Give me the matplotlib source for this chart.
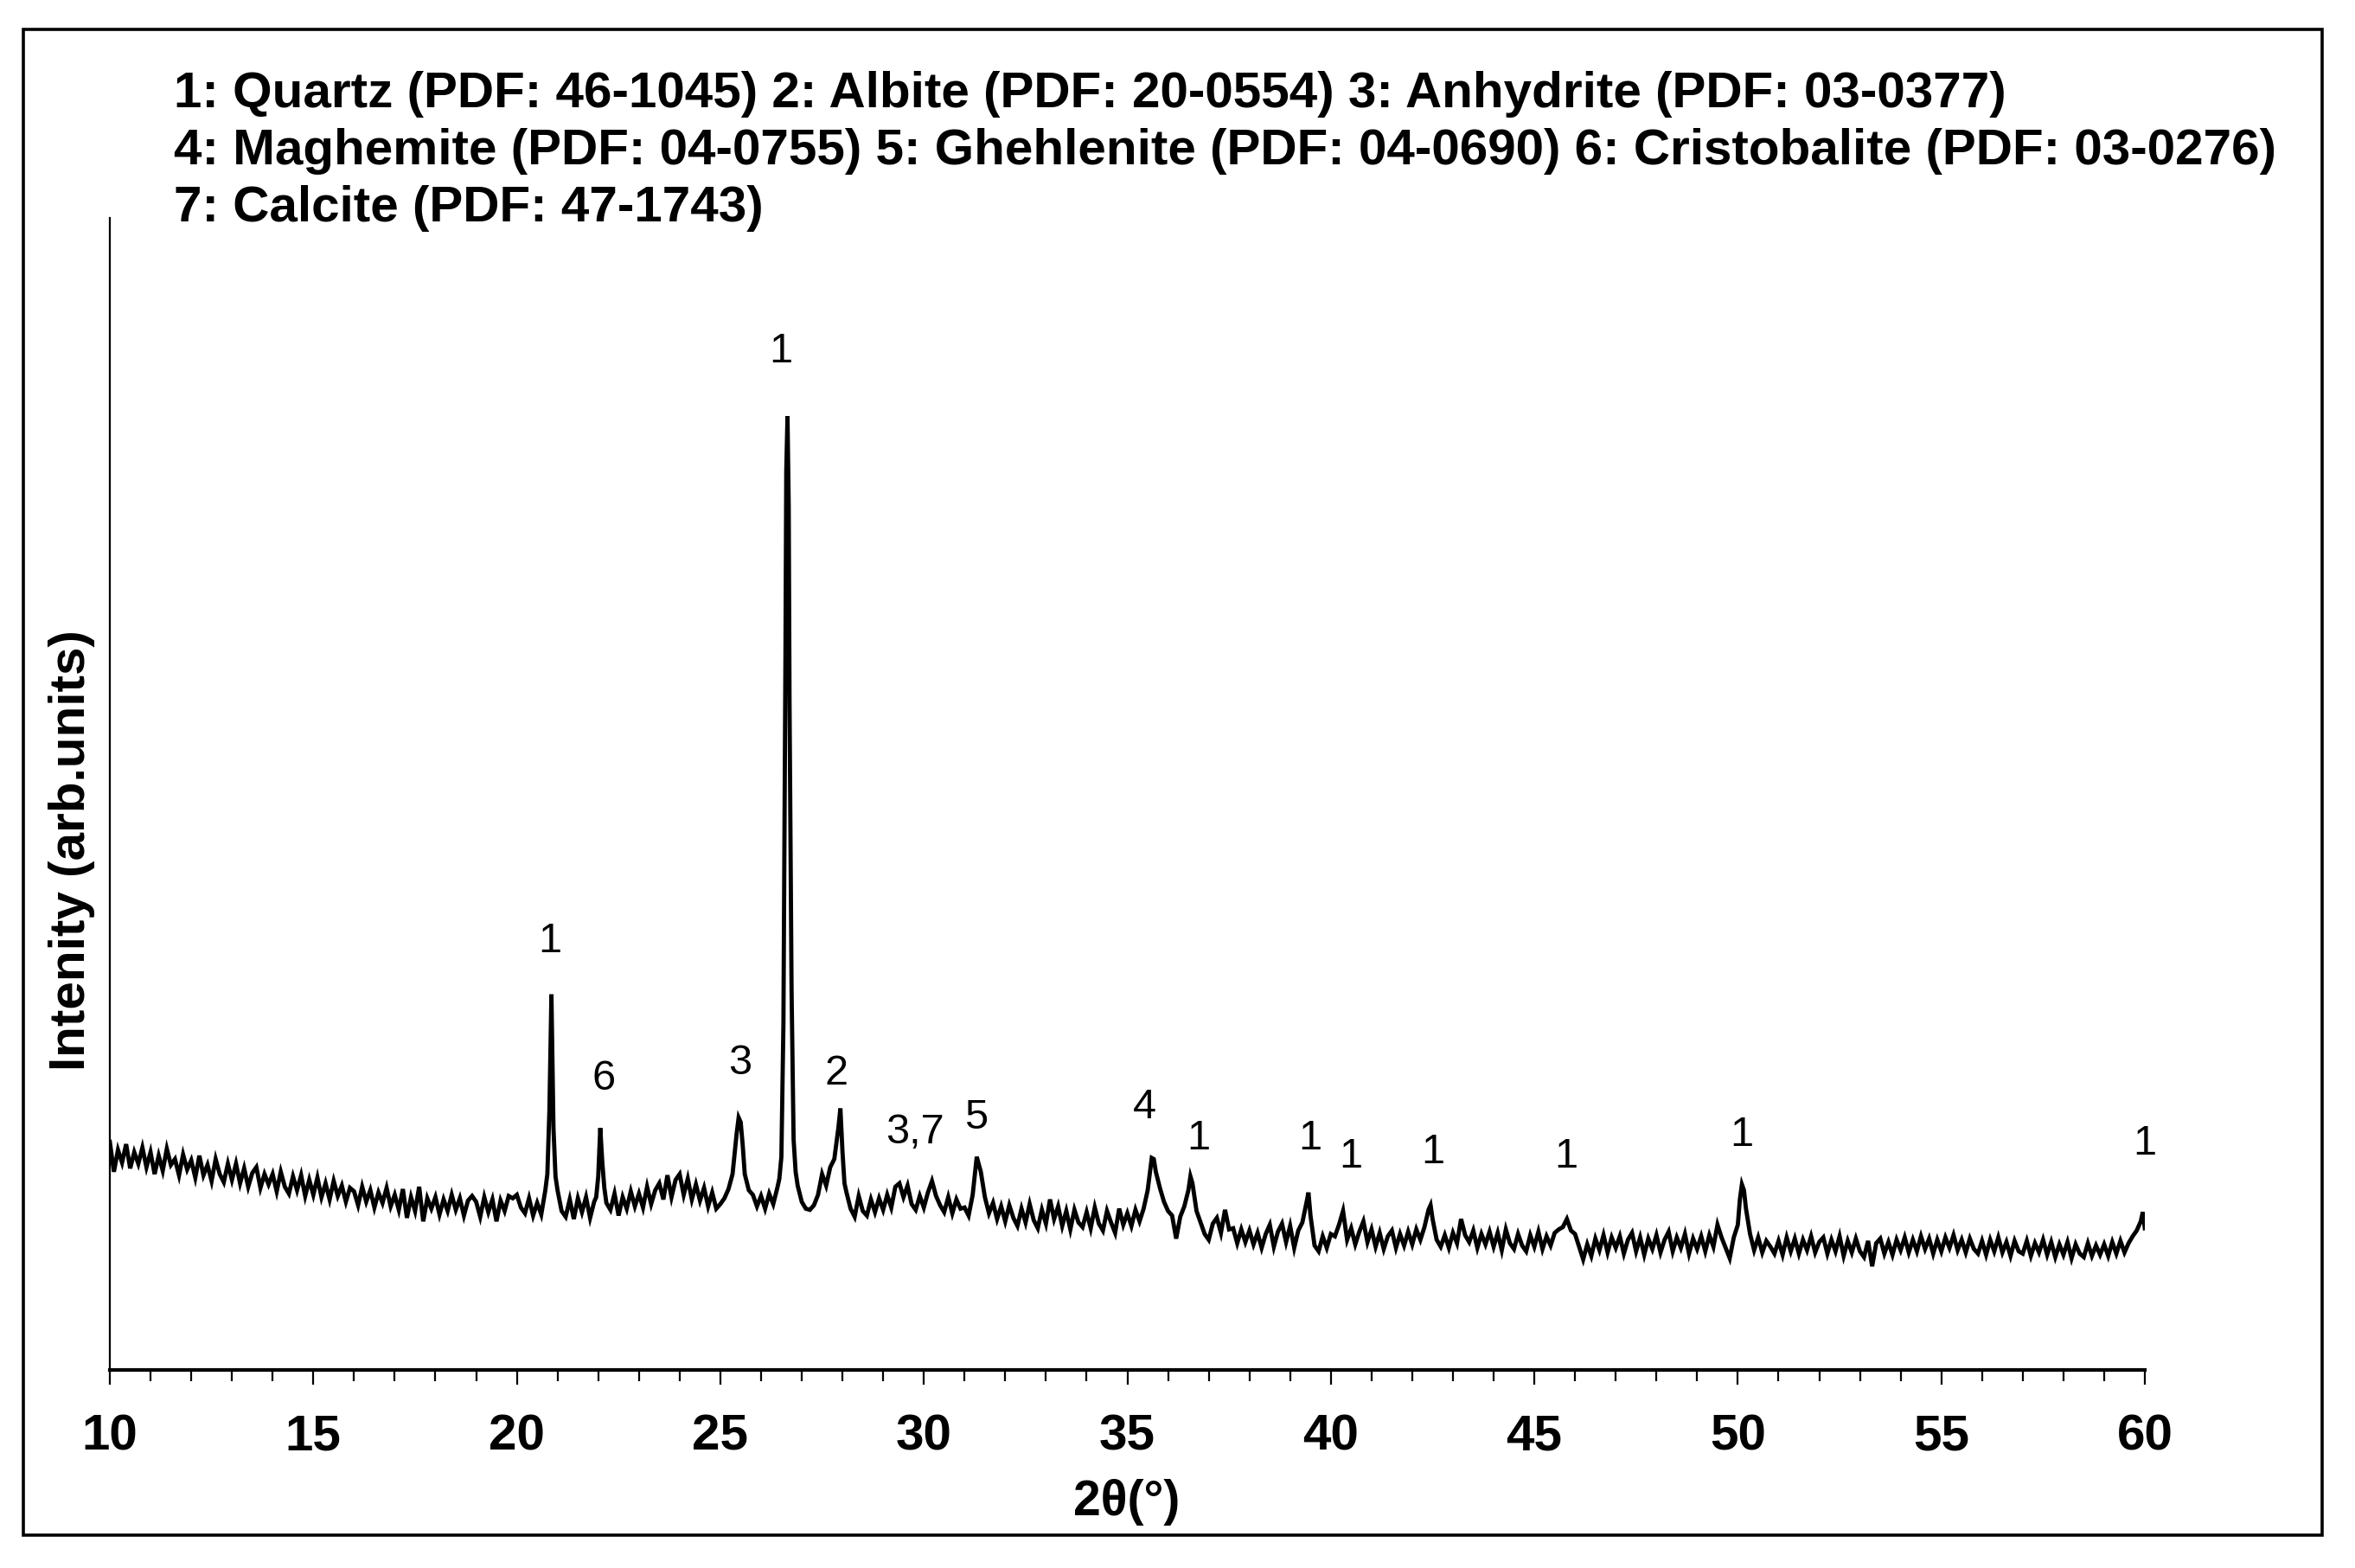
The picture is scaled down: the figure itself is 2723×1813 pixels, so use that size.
import numpy as np
import matplotlib
matplotlib.use("Agg")
import matplotlib.pyplot as plt
from matplotlib.ticker import MultipleLocator
from matplotlib.patches import Rectangle

plt.rcParams['font.family'] = ['Liberation Sans', 'DejaVu Sans']

# === Datos leidos del difractograma ===
# intensidad (u.a.) cada 0.1 grados, de 10.0 a 60.0 (una fila por grado)
intensity_grid = [
    19.8, 17.2, 19.1, 18.0, 19.6, 17.5, 18.9, 17.9, 19.3, 17.6,  # 10
    18.9, 17.0, 18.6, 17.3, 19.2, 17.8, 18.3, 16.9, 18.7, 17.4,  # 11
    18.2, 16.7, 18.6, 16.9, 17.8, 16.4, 18.3, 17.0, 16.3, 17.9,  # 12
    16.5, 17.9, 16.2, 17.5, 15.9, 17.1, 17.6, 15.8, 17.0, 16.1,  # 13
    17.0, 15.5, 17.2, 15.9, 15.3, 16.8, 15.6, 16.9, 15.1, 16.5,  # 14
    15.2, 16.7, 15.0, 16.2, 14.8, 16.4, 15.1, 16.0, 14.6, 15.8,  # 15
    15.5, 14.3, 15.9, 14.6, 15.6, 14.1, 15.4, 14.5, 15.8, 14.2,  # 16
    15.2, 13.9, 15.7, 13.2, 15.0, 13.8, 15.9, 12.9, 14.9, 14.0,  # 17
    15.0, 13.5, 14.8, 13.8, 15.2, 13.9, 14.9, 13.4, 14.7, 15.1,  # 18
    14.6, 13.3, 15.0, 13.7, 14.8, 12.9, 14.7, 13.8, 15.1, 14.9,  # 19
    15.2, 14.1, 13.6, 14.9, 13.4, 14.5, 13.5, 15.6, 22.5, 21.0,  # 20
    15.6, 13.8, 13.3, 14.8, 13.1, 14.9, 13.7, 15.0, 13.2, 14.6,  # 21
    16.8, 18.0, 14.5, 13.9, 15.3, 13.4, 15.0, 14.0, 15.5, 14.2,  # 22
    15.3, 14.1, 15.9, 14.4, 15.6, 16.2, 14.8, 16.9, 15.0, 16.5,  # 23
    17.0, 15.2, 16.6, 14.8, 16.1, 14.7, 15.8, 14.2, 15.4, 14.0,  # 24
    14.4, 14.9, 15.7, 17.0, 20.5, 21.5, 17.0, 15.6, 15.2, 14.2,  # 25
    15.1, 14.0, 15.3, 14.4, 15.8, 18.5, 62.0, 58.0, 20.0, 16.0,  # 26
    14.6, 14.0, 13.9, 14.3, 15.2, 17.0, 16.0, 17.6, 18.3, 21.0,  # 27
    19.0, 15.4, 14.0, 13.3, 15.1, 13.8, 13.4, 14.8, 13.7, 14.9,  # 28
    13.9, 15.2, 14.1, 15.9, 16.2, 15.0, 16.0, 14.4, 13.9, 15.1,  # 29
    14.1, 15.4, 16.4, 15.1, 14.3, 13.7, 15.0, 13.6, 14.8, 14.0,  # 30
    14.1, 13.4, 15.2, 18.5, 17.2, 15.0, 13.6, 14.5, 13.1, 14.2,  # 31
    12.9, 14.3, 13.2, 12.5, 14.0, 12.8, 14.4, 13.0, 12.3, 13.9,  # 32
    12.7, 14.8, 13.1, 14.2, 12.5, 13.8, 12.2, 13.9, 12.8, 12.4,  # 33
    13.7, 12.3, 14.1, 12.7, 12.1, 13.8, 12.8, 11.9, 14.0, 12.6,  # 34
    13.6, 12.5, 13.9, 12.9, 14.0, 15.6, 18.4, 17.2, 15.8, 14.6,  # 35
    13.8, 13.4, 11.4, 13.3, 14.2, 15.6, 16.2, 13.8, 12.8, 11.8,  # 36
    11.3, 12.7, 13.2, 11.9, 13.9, 12.2, 12.3, 11.0, 12.2, 11.1,  # 37
    12.1, 10.9, 11.9, 10.6, 11.8, 12.6, 10.7, 12.0, 12.7, 11.1,  # 38
    12.5, 10.6, 12.1, 12.8, 14.5, 13.4, 10.8, 10.3, 11.6, 10.6,  # 39
    11.8, 11.6, 12.6, 13.8, 11.3, 12.3, 10.9, 12.0, 12.9, 11.1,  # 40
    12.2, 10.7, 11.9, 10.5, 11.6, 12.1, 10.6, 11.8, 10.8, 12.0,  # 41
    10.9, 12.2, 11.3, 12.4, 13.9, 13.1, 11.3, 10.7, 11.7, 10.6,  # 42
    11.9, 11.0, 13.1, 11.7, 11.1, 12.1, 10.6, 11.8, 10.9, 12.0,  # 43
    10.7, 11.9, 10.4, 12.2, 11.0, 10.5, 11.8, 10.8, 10.3, 11.7,  # 44
    10.7, 12.0, 10.5, 11.6, 10.8, 11.9, 12.2, 12.4, 13.1, 12.1,  # 45
    11.8, 10.7, 9.6, 10.9, 9.9, 11.4, 10.4, 11.7, 10.2, 11.5,    # 46
    10.6, 11.6, 10.1, 11.3, 11.9, 10.3, 11.5, 10.0, 11.4, 10.5,  # 47
    11.7, 10.2, 11.3, 12.0, 10.3, 11.5, 10.6, 11.8, 10.1, 11.4,  # 48
    10.5, 11.6, 10.3, 11.7, 10.7, 12.6, 11.5, 10.6, 9.7, 11.5,   # 49
    12.6, 16.1, 14.0, 11.8, 10.4, 11.5, 10.2, 11.2, 10.7, 10.1,  # 50
    11.2, 10.0, 11.5, 10.3, 11.4, 10.1, 11.3, 10.4, 11.6, 10.2,  # 51
    11.1, 11.5, 10.1, 11.3, 10.3, 11.6, 9.9, 11.2, 10.2, 11.4,   # 52
    10.3, 9.8, 11.2, 9.0, 11.0, 11.4, 10.1, 11.1, 10.0, 11.3,    # 53
    10.4, 11.5, 10.2, 11.3, 10.3, 11.6, 10.5, 11.4, 10.1, 11.3,  # 54
    10.3, 11.5, 10.6, 11.7, 10.4, 11.3, 10.2, 11.4, 10.5, 10.1,  # 55
    11.2, 10.0, 11.3, 10.3, 11.5, 10.2, 11.1, 9.9, 11.2, 10.3,   # 56
    10.1, 11.2, 9.9, 11.0, 10.2, 11.3, 10.0, 11.1, 9.8, 10.9,    # 57
    10.0, 11.1, 9.7, 10.9, 10.1, 9.8, 11.0, 9.9, 10.8, 10.0,     # 58
    10.9, 9.9, 11.1, 10.1, 11.2, 10.2, 11.0, 11.6, 12.1, 12.9,   # 59
    12.3,                                                        # 60
]

# puntos extra en las cimas de los picos estrechos
peak_2theta = [20.75, 20.85, 20.95, 21.95, 22.05, 22.15, 25.45, 25.55,
               26.45, 26.55, 26.62, 26.65, 26.68, 26.75, 26.85, 27.95, 28.05,
               35.65, 36.55, 39.45, 42.45, 50.05, 50.15, 59.95]
peak_intensity = [17.0, 32.6, 16.8, 15.0, 21.0, 15.8, 21.9, 19.5,
                  16.6, 30.0, 78.0, 82.8, 75.0, 33.0, 17.2, 22.7, 16.2,
                  18.3, 16.8, 15.4, 14.3, 14.8, 15.6, 13.7]

# etiquetas de fases sobre los picos
peak_labels = ["1", "6", "3", "1", "2", "3,7", "5", "4",
               "1", "1", "1", "1", "1", "1", "1"]
label_x = [20.81, 22.14, 25.49, 26.49, 27.86, 29.78, 31.29, 35.42,
           36.74, 39.49, 40.49, 42.50, 45.79, 50.10, 60.0]
label_y = [37.2, 25.3, 26.6, 88.4, 25.7, 20.6, 21.9, 22.8,
           20.1, 20.1, 18.5, 18.9, 18.5, 20.4, 19.6]

phase_lines = [
    "1: Quartz (PDF: 46-1045) 2: Albite (PDF: 20-0554) 3: Anhydrite (PDF: 03-0377)",
    "4: Maghemite (PDF: 04-0755) 5: Ghehlenite (PDF: 04-0690) 6: Cristobalite (PDF: 03-0276)",
    "7: Calcite (PDF: 47-1743)",
]

x_ticks = [10, 15, 20, 25, 30, 35, 40, 45, 50, 55, 60]

# === Unir malla y puntos de pico ===
grid_2theta = np.round(10.0 + 0.1 * np.arange(len(intensity_grid)), 2)
two_theta = np.concatenate([grid_2theta, peak_2theta])
intensity = np.concatenate([intensity_grid, peak_intensity])
orden = np.argsort(two_theta)
two_theta = two_theta[orden]
intensity = intensity[orden]

# === Grafico ===
W, H = 2723, 1813
fig = plt.figure(figsize=(W / 100, H / 100), dpi=100)
ax = fig.add_axes([127 / W, 1 - 1584 / H, (2480 - 127) / W, (1584 - 252) / H])

ax.plot(two_theta, intensity, color="black", linewidth=3.5, solid_joinstyle="miter")

ax.set_xlim(10, 60)
ax.set_ylim(0, 100)
ax.set_yticks([])
ax.set_xticks(x_ticks)
ax.xaxis.set_minor_locator(MultipleLocator(1))
ax.tick_params(axis="x", which="major", direction="out", length=12.5, width=1.6,
               labelsize=42, pad=24)
ax.tick_params(axis="x", which="minor", direction="out", length=9, width=1.6)
for lab in ax.get_xticklabels():
    lab.set_fontweight("bold")

ax.spines["top"].set_visible(False)
ax.spines["right"].set_visible(False)
ax.spines["left"].set_linewidth(1.6)
ax.spines["bottom"].set_linewidth(3.0)

for txt, xv, yv in zip(peak_labels, label_x, label_y):
    ax.text(xv, yv, txt, ha="center", va="center", fontsize=35, clip_on=False)

fig.text(1303 / W, 1 - 1737 / H, "2θ(°)", ha="center", va="center",
         fontsize=41, fontweight="bold")
fig.text(83 / W, 1 - 983 / H, "Intenity (arb.units)", ha="center", va="center",
         rotation=90, fontsize=42, fontweight="bold")

for i, linea in enumerate(phase_lines):
    fig.text(201 / W, 1 - (109 + 66 * i) / H, linea, ha="left", va="center",
             fontsize=42, fontweight="bold")

# marco exterior de la figura
fig.patches.append(Rectangle((27 / W, 1 - 1775 / H), (2685 - 27) / W, (1775 - 34) / H,
                             transform=fig.transFigure, fill=False,
                             edgecolor="black", linewidth=2.6))

fig.savefig("out.png", dpi=100)
plt.close(fig)
